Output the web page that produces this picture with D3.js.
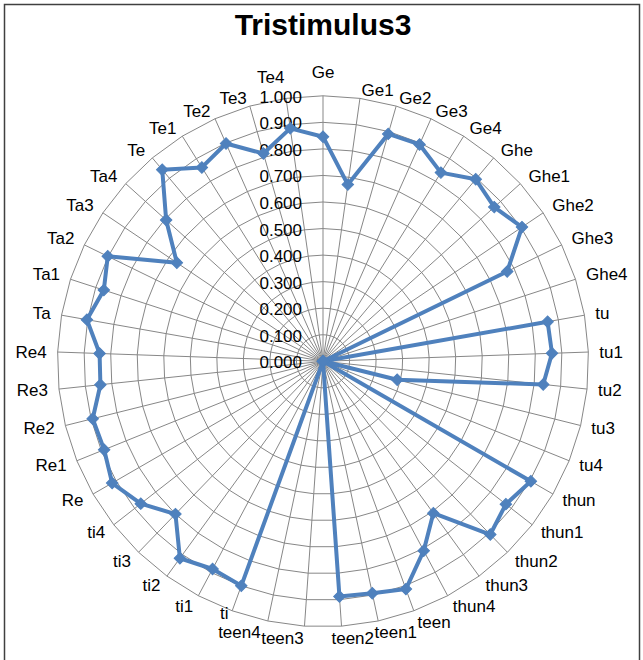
<!DOCTYPE html>
<html>
<head>
<meta charset="utf-8">
<script src="https://cdn.jsdelivr.net/npm/d3@7"></script>
<style>
  html, body { margin: 0; padding: 0; background: #fff; }
  svg { display: block; }
</style>
</head>
<body>
<svg id="chart" width="643" height="660"></svg>
<script>
// ---- data ----
const title = "Tristimulus3";
const categories = ["Ge","Ge1","Ge2","Ge3","Ge4","Ghe","Ghe1","Ghe2","Ghe3","Ghe4",
  "tu","tu1","tu2","tu3","tu4","thun","thun1","thun2","thun3","thun4",
  "teen","teen1","teen2","teen3","teen4","ti","ti1","ti2","ti3","ti4",
  "Re","Re1","Re2","Re3","Re4","Ta","Ta1","Ta2","Ta3","Ta4",
  "Te","Te1","Te2","Te3","Te4"];
const values = [0.846,0.672,0.891,0.894,0.838,0.895,0.868,0.904,0.772,0.000,
  0.859,0.863,0.834,0.288,0.000,0.904,0.874,0.907,0.707,0.808,
  0.913,0.893,0.888,0.000,0.000,0.900,0.886,0.917,0.800,0.871,
  0.917,0.889,0.894,0.843,0.842,0.903,0.868,0.902,0.664,0.795,
  0.942,0.861,0.898,0.814,0.886];
const tickValues = [0,0.1,0.2,0.3,0.4,0.5,0.6,0.7,0.8,0.9,1.0];

// ---- layout ----
const W = 643, H = 660;
const cx = 323, cy = 361.3, R = 265.5;
const FS = 17;
const svg = d3.select("#chart");
const font = "'Liberation Sans', Arial, sans-serif";

svg.append("rect").attr("x",0).attr("y",0).attr("width",W).attr("height",H).attr("fill","#fff");
svg.append("rect").attr("x",4.5).attr("y",4.5).attr("width",635).attr("height",720)
  .attr("fill","none").attr("stroke","#404040").attr("stroke-width",1.5);

const n = categories.length;
const angle = d3.scaleLinear().domain([0, n]).range([0, 2*Math.PI]);
const r = d3.scaleLinear().domain([0, 1]).range([0, R]);

const g = svg.append("g").attr("transform", `translate(${cx},${cy})`);
const idx = d3.range(n);

// rings (polygons)
const ringLine = d3.lineRadial().angle(i => angle(i)).curve(d3.curveLinearClosed);
g.append("g").selectAll("path").data(tickValues.filter(v => v > 0)).join("path")
  .attr("d", v => ringLine.radius(() => r(v))(idx))
  .attr("fill","none").attr("stroke","#878787").attr("stroke-width",1);

// spokes
g.append("g").selectAll("line").data(idx).join("line")
  .attr("x1",0).attr("y1",0)
  .attr("x2", i => r(1)*Math.sin(angle(i)))
  .attr("y2", i => -r(1)*Math.cos(angle(i)))
  .attr("stroke","#878787").attr("stroke-width",1);

// tick labels
const fmt = d3.format(".3f");
const tickText = g.append("g").selectAll("text").data(tickValues).join("text")
  .attr("x", -21).attr("y", v => -r(v) + 1.5)
  .attr("text-anchor","end").attr("dominant-baseline","central")
  .attr("font-family", font).attr("font-size", FS).attr("fill","#000")
  .text(v => fmt(v));

// category labels
const catText = g.append("g").selectAll("text").data(idx).join("text")
  .each(function(i) {
    const a = angle(i), s = Math.sin(a), c = Math.cos(a);
    const ex = r(1)*s, ey = -r(1)*c;
    let x, y, anchor;
    if (Math.abs(s) < 1e-6) {
      anchor = "middle"; x = ex; y = ey - 23;
    } else {
      anchor = s > 0 ? "start" : "end";
      x = ex + 11*s;
      if (c > 0.05) y = ey - 7.5*Math.min(1, (c-0.05)/0.45);
      else y = ey - 12*(c-0.05)/1.05;
    }
    d3.select(this).attr("x", x).attr("y", y).attr("text-anchor", anchor);
  })
  .attr("dominant-baseline","central")
  .attr("font-family", font).attr("font-size", FS).attr("fill","#000")
  .text(i => categories[i]);

// minimal nudging to avoid text overlaps (text boxes)
function box(el) {
  const b = el.getBBox();
  return { x0: b.x, x1: b.x + b.width, y0: b.y, y1: b.y + b.height };
}
const placed = [];
tickText.each(function() { placed.push(box(this)); });
catText.each(function() {
  const el = d3.select(this);
  for (let iter = 0; iter < 8; iter++) {
    const b = box(this);
    let hit = null;
    for (const p of placed) {
      const ox = Math.min(b.x1, p.x1) - Math.max(b.x0, p.x0);
      const oy = Math.min(b.y1, p.y1) - Math.max(b.y0, p.y0);
      if (ox > 0 && oy > 0) { hit = { p, ox, oy }; break; }
    }
    if (!hit) break;
    const { p, ox, oy } = hit;
    if (ox <= oy) {
      const dir = ((b.x0 + b.x1)/2 < (p.x0 + p.x1)/2) ? -1 : 1;
      el.attr("x", +el.attr("x") + dir*(ox + 0.5));
    } else {
      const dir = ((b.y0 + b.y1)/2 < (p.y0 + p.y1)/2) ? -1 : 1;
      el.attr("y", +el.attr("y") + dir*(oy + 0.5));
    }
  }
  placed.push(box(this));
});

// series
const blue = "#4F81BD";
const line = d3.lineRadial().angle((d,i) => angle(i)).radius(d => r(d)).curve(d3.curveLinearClosed);
g.append("path").datum(values).attr("d", line)
  .attr("fill","none").attr("stroke",blue).attr("stroke-width",4).attr("stroke-linejoin","round");

const diamond = d3.symbol().type(d3.symbolSquare).size(66);
g.append("g").selectAll("path").data(values).join("path")
  .attr("transform", (d,i) => `translate(${r(d)*Math.sin(angle(i))},${-r(d)*Math.cos(angle(i))}) rotate(45)`)
  .attr("d", diamond).attr("fill", blue).attr("stroke", blue).attr("stroke-width",1);

// title
svg.append("text").attr("x", cx).attr("y", 35).attr("text-anchor","middle")
  .attr("font-family", font).attr("font-weight","bold").attr("font-size", 30).attr("fill","#000")
  .text(title);
</script>
</body>
</html>
